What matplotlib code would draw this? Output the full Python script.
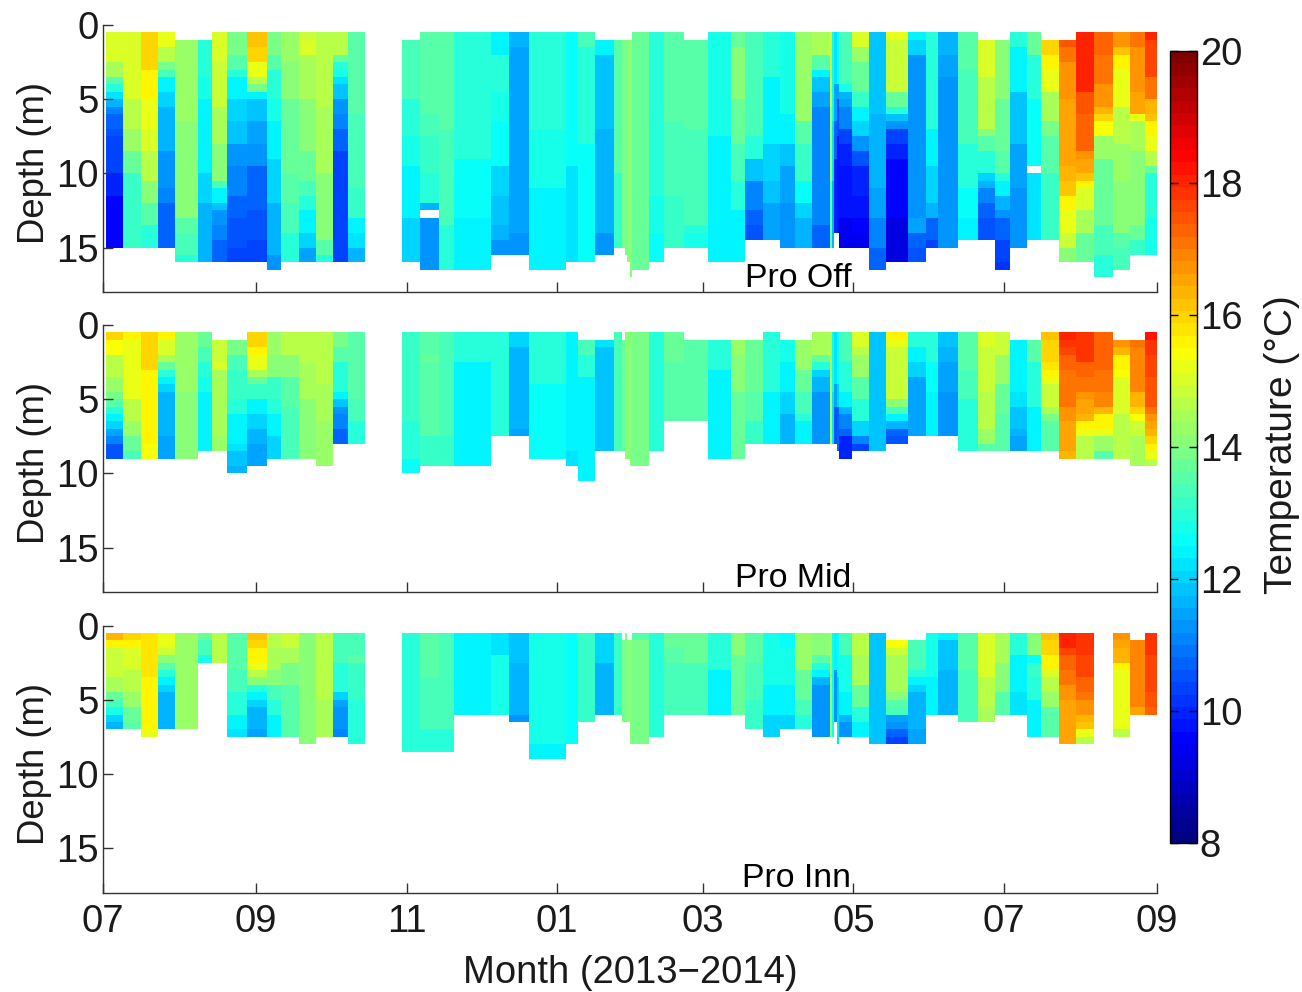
"""Temperature sections at the three Pro moorings, Jul 2013 - Sep 2014."""
import matplotlib

matplotlib.use("Agg")
import matplotlib.pyplot as plt  # noqa: E402
import numpy as np  # noqa: E402
from matplotlib.colors import LinearSegmentedColormap  # noqa: E402

plt.rcParams["font.family"] = ["Liberation Sans", "DejaVu Sans"]

_ = None

# days since 1 July 2013, column edges of the sections
EDGES = [1.3, 8.3, 15.2, 22.2, 29.2, 38.4, 44.3, 50.3, 58.4, 66.5, 72.3, 79.3, 86.3, 93.2, 99.2, 106.2,
         121.3, 128.3, 136.2, 142.2, 150.2, 157.2, 164.5, 172.4, 180.2, 187.6, 192.3, 199.3, 207.2, 210.3,
         211.3, 212.3, 213.4, 214.2, 221.2, 227.3, 235.4, 245.3, 254.4, 260.2, 267.4, 274.3, 280.3, 287.2,
         294.4, 295.4, 296.2, 297.2, 298.3, 303.4, 310.3, 317.3, 326.2, 333.4, 338.2, 346.2, 354.3, 361.3,
         367.3, 374.4, 380.2, 387.4, 394.3, 401.3, 409.3, 416.2, 422.2, 427.0]

# each column: runs of (number of 0.5 m bins, temperature) from 0.5 m down; None = no data
OFF_COLS = [
    [(4, 15.1), (2, 14.4), (1, 13.6), (1, 13.0), (1, 12.2), (1, 11.6), (1, 11.0), (2, 10.7), (1, 10.5), (5, 10.3), (3, 10.0), (7, 9.6)],
    [(9, 15.0), (4, 14.6), (3, 14.2), (3, 13.7), (10, 13.2)],
    [(5, 15.9), (4, 15.6), (4, 15.3), (3, 15.0), (4, 14.6), (3, 14.0), (3, 13.5), (3, 13.0)],
    [(2, 15.2), (2, 14.7), (1, 13.9), (1, 13.3), (2, 12.4), (2, 12.1), (6, 11.6), (5, 11.3), (2, 11.0), (6, 10.7)],
    [(1, _), (11, 14.2), (13, 14.0), (2, 13.6), (3, 13.3), (1, 13.0)],
    [(1, _), (5, 13.0), (3, 12.7), (10, 12.4), (4, 12.0), (8, 11.7)],
    [(4, 15.1), (6, 14.8), (5, 14.4), (5, 14.0), (1, 13.3), (2, 12.4), (1, 11.8), (2, 11.3), (2, 11.0), (3, 10.7)],
    [(3, 13.9), (2, 13.5), (1, 13.0), (3, 12.4), (3, 12.0), (3, 11.8), (3, 11.3), (4, 11.0), (3, 10.7), (4, 10.5), (2, 10.3)],
    [(2, 16.2), (2, 16.0), (2, 15.2), (1, 14.6), (1, 13.9), (1, 12.4), (3, 11.9), (3, 11.5), (3, 11.2), (6, 10.8), (4, 10.6), (3, 10.3)],
    [(3, 13.9), (2, 13.5), (4, 13.0), (3, 12.7), (5, 12.4), (6, 12.0), (7, 11.7), (2, 11.3)],
    [(4, 14.2), (5, 14.0), (10, 13.8), (4, 13.6), (4, 13.4), (4, 13.0)],
    [(1, 14.9), (2, 15.1), (6, 14.4), (7, 14.1), (4, 13.8), (2, 13.3), (2, 12.9), (3, 12.4), (2, 12.0), (2, 11.5)],
    [(10, 14.6), (9, 14.4), (7, 14.1), (2, 14.0), (2, 13.6), (1, 13.0)],
    [(3, 14.6), (1, 13.8), (1, 13.0), (1, 12.7), (1, 12.2), (2, 11.9), (2, 11.3), (2, 11.0), (3, 10.7), (15, 10.3)],
    [(11, 13.6), (10, 13.4), (4, 13.2), (2, 12.4), (2, 12.2), (2, 11.7)],
    [],
    [(1, _), (8, 13.3), (5, 13.0), (4, 12.7), (7, 12.4), (6, 12.0)],
    [(11, 13.5), (3, 13.3), (5, 13.1), (4, 12.9), (1, 11.7), (1, _), (7, 11.2)],
    [(13, 13.5), (13, 13.3), (6, 13.0)],
    [(17, 12.9), (8, 12.6), (7, 12.4)],
    [(17, 12.9), (8, 12.6), (7, 12.4)],
    [(3, 12.4), (5, 13.0), (4, 12.8), (6, 12.5), (4, 12.1), (4, 11.8), (2, 11.6), (2, 11.3)],
    [(2, 11.7), (25, 11.5), (3, 11.3)],
    [(13, 12.9), (8, 12.7), (11, 12.4)],
    [(13, 12.9), (8, 12.7), (11, 12.4)],
    [(18, 12.5), (13, 12.3)],
    [(2, 13.3), (13, 12.9), (16, 12.5)],
    [(1, _), (2, 12.4), (10, 11.8), (14, 11.6), (3, 11.2)],
    [(1, _), (18, 13.5), (10, 13.2)],
    [(1, _), (28, 13.9)],
    [(1, _), (29, 13.9)],
    [(1, _), (30, 14.0)],
    [(1, _), (32, 14.0)],
    [(32, 13.8)],
    [(12, 13.0), (10, 12.9), (5, 12.7), (4, 12.5)],
    [(12, 13.6), (10, 13.4), (7, 13.2)],
    [(1, _), (12, 13.6), (13, 13.4), (1, 13.0), (2, 12.7)],
    [(14, 12.7), (17, 12.4)],
    [(2, 13.8), (7, 14.0), (6, 13.8), (5, 13.4), (4, 13.0), (7, 12.4)],
    [(14, 13.3), (3, 13.0), (3, 11.9), (4, 11.0), (2, 10.8), (2, 10.5)],
    [(6, 12.9), (9, 12.4), (5, 12.1), (3, 11.8), (5, 11.5)],
    [(11, 12.8), (4, 12.4), (3, 11.9), (5, 11.5), (6, 11.2)],
    [(12, 14.3), (3, 13.6), (5, 13.2), (3, 12.5), (2, 12.1), (4, 11.6)],
    [(3, 14.4), (2, 13.5), (1, 12.4), (2, 11.9), (2, 11.4), (16, 11.0), (3, 10.7)],
    [(10, 15.0), (10, 14.4), (9, 13.8)],
    [(12, 12.6), (8, 12.2), (9, 11.6)],
    [(7, 12.3), (5, 11.5), (5, 10.7), (10, 9.9)],
    [(7, 12.5), (2, 11.5), (5, 10.5), (13, 9.8)],
    [(7, 13.3), (1, 12.7), (1, 11.7), (1, 11.4), (3, 11.0), (2, 10.4), (3, 10.0), (3, 9.8), (4, 9.7), (4, 9.4)],
    [(2, 15.0), (2, 14.2), (4, 13.8), (2, 13.2), (2, 12.4), (2, 12.0), (2, 11.3), (2, 10.5), (4, 10.0), (3, 9.8), (2, 9.6), (2, 9.4)],
    [(11, 11.9), (10, 11.6), (4, 11.4), (4, 11.0), (3, 10.8)],
    [(1, 15.3), (7, 14.8), (2, 13.7), (1, 12.9), (1, 11.9), (1, 11.2), (2, 10.4), (2, 10.0), (8, 9.6), (6, 9.3)],
    [(1, 12.4), (2, 12.0), (12, 11.3), (10, 11.2), (2, 11.4), (2, 10.8), (2, 10.6)],
    [(13, 13.0), (5, 12.4), (5, 12.1), (2, 11.7), (3, 10.8), (1, 10.4)],
    [(3, 11.7), (3, 11.5), (19, 11.2), (4, 11.3)],
    [(5, 13.6), (10, 13.3), (6, 13.0), (4, 12.6), (3, 12.4)],
    [(1, _), (5, 15.0), (7, 14.7), (1, 14.1), (2, 13.6), (3, 12.9), (1, 12.1), (1, 11.6), (2, 11.0), (2, 10.8), (3, 10.6)],
    [(1, _), (8, 14.0), (7, 13.7), (3, 13.5), (1, 13.0), (2, 12.4), (2, 11.7), (1, 11.2), (3, 10.8), (3, 10.4), (1, 10.2)],
    [(2, 13.0), (6, 12.4), (7, 11.9), (6, 11.5), (8, 11.2)],
    [(3, 13.8), (6, 13.0), (9, 12.5), (1, _), (9, 12.3)],
    [(1, _), (2, 16.0), (2, 15.6), (3, 15.2), (4, 14.4), (2, 13.9), (5, 13.5), (9, 13.2)],
    [(1, _), (1, 17.4), (2, 17.1), (5, 16.8), (5, 16.6), (4, 16.5), (2, 16.3), (2, 16.1), (2, 15.6), (3, 15.2), (2, 14.8), (2, 14.0)],
    [(8, 18.0), (3, 17.5), (5, 17.3), (1, 16.8), (2, 16.5), (1, 16.2), (1, 15.6), (3, 15.0), (3, 14.4), (4, 13.8)],
    [(3, 17.3), (4, 17.1), (3, 16.8), (1, 16.4), (1, 16.0), (2, 15.4), (3, 14.2), (9, 13.7), (4, 13.4), (3, 13.0)],
    [(2, 16.8), (1, 16.2), (2, 15.6), (5, 15.2), (5, 14.6), (5, 14.2), (7, 14.0), (2, 13.6), (3, 13.3)],
    [(2, 17.0), (6, 16.8), (3, 16.5), (1, 15.2), (4, 14.4), (10, 14.1), (2, 13.7), (2, 13.2)],
    [(1, 18.1), (5, 17.6), (3, 17.0), (2, 16.4), (1, 16.1), (2, 15.6), (2, 15.2), (2, 14.6), (1, 13.8), (6, 13.0), (5, 12.7)],
]

MID_COLS = [
    [(1, 15.9), (2, 15.4), (3, 14.7), (2, 14.2), (1, 13.9), (1, 13.5), (1, 13.0), (1, 12.4), (1, 12.0), (1, 11.4), (1, 11.0), (2, 10.6)],
    [(1, 15.6), (8, 15.2), (3, 14.7), (2, 14.2), (2, 13.7), (1, 13.3)],
    [(5, 15.9), (10, 15.6), (2, 15.4)],
    [(1, 15.5), (2, 15.1), (1, 14.4), (1, 13.8), (1, 13.0), (1, 12.4), (1, 12.0), (6, 11.7), (3, 11.5)],
    [(8, 14.2), (9, 14.1)],
    [(2, 13.7), (2, 13.4), (2, 13.0), (2, 12.7), (8, 12.4)],
    [(1, _), (3, 14.8), (1, 15.0), (9, 14.5), (2, 14.2)],
    [(1, _), (2, 13.9), (2, 13.4), (4, 13.2), (2, 12.9), (4, 12.4), (1, 12.2), (2, 11.9), (1, 11.7)],
    [(2, 16.0), (1, 15.6), (2, 15.2), (1, 14.4), (1, 13.8), (2, 13.2), (2, 12.4), (2, 12.0), (2, 11.6), (3, 11.4)],
    [(3, 14.3), (3, 14.0), (3, 13.2), (2, 12.9), (3, 12.4), (3, 12.0)],
    [(3, 14.6), (3, 14.0), (4, 13.6), (7, 13.4)],
    [(4, 14.7), (5, 14.4), (8, 14.1)],
    [(7, 14.7), (5, 14.5), (6, 14.2)],
    [(2, 13.9), (2, 13.5), (4, 13.0), (1, 12.4), (1, 11.9), (1, 11.3), (2, 11.0), (2, 10.7)],
    [(9, 13.5), (3, 13.3), (3, 13.0)],
    [],
    [(12, 13.1), (5, 12.9), (2, 12.5)],
    [(3, 13.6), (1, 13.8), (10, 13.5), (4, 13.1)],
    [(14, 13.3), (4, 13.1)],
    [(3, 12.9), (1, 13.0), (14, 12.4)],
    [(3, 12.9), (1, 13.0), (14, 12.4)],
    [(14, 12.9)],
    [(2, 12.0), (11, 11.7), (1, 11.5)],
    [(7, 12.9), (10, 12.5)],
    [(7, 12.9), (10, 12.5)],
    [(16, 12.4), (2, 12.2)],
    [(1, _), (2, 13.3), (3, 12.9), (14, 12.4)],
    [(1, _), (1, 12.3), (14, 11.8)],
    [(16, 13.3)],
    [(1, _), (15, 13.8)],
    [(17, 14.0)],
    [(17, 14.0)],
    [(18, 14.0)],
    [(18, 13.9)],
    [(16, 12.9)],
    [(4, 13.7), (8, 13.5)],
    [(1, _), (11, 13.6)],
    [(1, _), (4, 12.9), (12, 12.4)],
    [(1, _), (2, 14.2), (5, 14.0), (9, 13.8)],
    [(1, _), (7, 13.7), (4, 13.5), (3, 13.2)],
    [(4, 13.0), (4, 12.9), (7, 12.4)],
    [(1, _), (3, 12.7), (4, 12.4), (3, 12.0), (4, 11.6)],
    [(1, _), (4, 14.2), (3, 13.8), (3, 13.3), (1, 12.9), (3, 12.4)],
    [(3, 14.4), (1, 13.8), (1, 12.9), (1, 12.0), (2, 11.7), (7, 11.3)],
    [(15, 14.6)],
    [(8, 12.6), (7, 12.2)],
    [(7, 12.3), (3, 11.5), (5, 10.5)],
    [(7, 12.6), (3, 12.0), (6, 10.7)],
    [(4, 13.3), (4, 12.9), (2, 12.4), (1, 11.6), (2, 11.0), (1, 10.7), (3, 10.0)],
    [(2, 15.0), (1, 14.6), (3, 14.2), (3, 13.5), (3, 12.9), (2, 12.0), (1, 11.1), (1, 10.3)],
    [(16, 11.9)],
    [(1, 15.6), (1, 15.3), (7, 14.8), (1, 14.0), (1, 13.3), (1, 12.4), (1, 11.6), (1, 10.8), (1, 10.6)],
    [(2, 13.0), (2, 12.4), (2, 12.0), (4, 11.5), (4, 11.4)],
    [(4, 12.9), (4, 12.6), (6, 12.4)],
    [(2, 11.9), (2, 11.7), (4, 11.5), (6, 11.2)],
    [(5, 13.6), (4, 13.3), (7, 12.9)],
    [(2, 15.1), (6, 14.9), (5, 14.6), (2, 14.2), (1, 13.6)],
    [(3, 14.8), (4, 14.2), (4, 13.8), (5, 13.5)],
    [(1, _), (7, 12.4), (2, 12.2), (3, 11.9), (1, 11.6), (2, 11.4)],
    [(1, _), (3, 13.5), (2, 13.0), (4, 12.9), (6, 12.4)],
    [(1, 16.2), (3, 16.0), (1, 15.7), (1, 15.5), (1, 15.3), (3, 14.8), (1, 14.4), (1, 13.9), (4, 13.5)],
    [(1, 18.1), (1, 17.9), (1, 17.6), (2, 17.2), (5, 17.0), (2, 16.8), (4, 16.6), (1, 16.4)],
    [(2, 17.9), (2, 17.8), (2, 17.3), (2, 17.1), (1, 16.8), (2, 16.5), (1, 16.3), (1, 15.6), (1, 15.2), (3, 14.6)],
    [(5, 17.3), (3, 17.1), (2, 16.9), (1, 16.4), (2, 15.6), (1, 15.2), (2, 14.2), (1, 13.6)],
    [(1, _), (1, 16.8), (1, 16.3), (2, 15.6), (1, 15.4), (5, 15.0), (6, 14.7)],
    [(1, _), (1, 17.1), (6, 16.9), (2, 16.4), (1, 16.0), (1, 15.4), (2, 14.8), (4, 14.4)],
    [(1, 18.2), (2, 17.9), (3, 17.6), (4, 17.4), (1, 17.1), (1, 16.8), (1, 16.5), (1, 16.3), (1, 16.0), (1, 15.6), (1, 15.2), (1, 14.6)],
]

INN_COLS = [
    [(1, 16.4), (1, 15.6), (4, 14.8), (2, 14.4), (1, 13.7), (1, 13.3), (1, 12.7), (1, 12.0), (1, 11.6)],
    [(1, 16.0), (1, 15.6), (3, 15.1), (3, 14.7), (2, 14.2), (2, 13.8), (1, 13.5)],
    [(6, 15.8), (7, 15.6), (1, 15.2)],
    [(2, 15.2), (1, 14.9), (1, 14.1), (1, 13.6), (1, 12.9), (1, 12.4), (1, 12.0), (5, 11.7)],
    [(13, 14.2)],
    [(1, 13.7), (2, 13.3), (1, 12.8)],
    [(4, 14.7)],
    [(5, 13.6), (3, 13.3), (3, 13.0), (2, 12.4), (1, 12.2)],
    [(1, 16.2), (1, 16.0), (2, 15.6), (1, 15.2), (1, 14.6), (1, 14.0), (1, 13.0), (1, 12.4), (1, 12.0), (3, 11.6), (1, 11.5)],
    [(2, 14.7), (3, 14.4), (2, 14.0), (2, 13.3), (2, 12.9), (3, 12.4)],
    [(2, 14.8), (2, 14.4), (3, 13.9), (7, 13.6)],
    [(15, 14.1)],
    [(9, 14.7), (5, 14.4)],
    [(4, 13.3), (4, 13.0), (1, 12.1), (1, 11.4), (3, 11.2), (1, 11.0)],
    [(3, 13.4), (1, 13.6), (5, 13.2), (6, 13.0)],
    [],
    [(16, 13.0)],
    [(6, 13.6), (7, 13.4), (3, 13.0)],
    [(13, 13.3), (3, 13.0)],
    [(11, 12.4)],
    [(11, 12.4)],
    [(3, 12.3), (8, 12.8)],
    [(4, 11.9), (7, 11.6), (1, 11.3)],
    [(15, 12.8), (2, 12.4)],
    [(15, 12.8), (2, 12.4)],
    [(15, 12.5)],
    [(12, 13.1)],
    [(4, 12.0), (7, 11.7)],
    [(11, 13.1)],
    [(1, _), (11, 13.9)],
    [(12, 13.9)],
    [(1, _), (11, 14.0)],
    [(1, _), (14, 14.0)],
    [(1, 13.5), (14, 13.9)],
    [(14, 12.9)],
    [(2, 13.8), (2, 13.6), (7, 13.4)],
    [(4, 13.8), (7, 13.4)],
    [(5, 12.9), (6, 12.4)],
    [(3, 14.1), (8, 13.8)],
    [(4, 13.6), (5, 13.4), (4, 13.2)],
    [(7, 12.8), (4, 12.4), (3, 12.1)],
    [(2, 12.5), (5, 12.8), (4, 12.4), (2, 12.1)],
    [(5, 14.2), (4, 13.8), (2, 13.3), (2, 13.0)],
    [(3, 14.1), (1, 13.6), (1, 13.0), (1, 12.4), (1, 11.7), (7, 11.3)],
    [(14, 14.5)],
    [(14, 12.5)],
    [(5, 12.4), (7, 11.3)],
    [(6, 12.5), (5, 12.1), (4, 12.3)],
    [(3, 13.3), (5, 12.8), (3, 12.4), (1, 11.6), (2, 11.2)],
    [(3, 14.7), (4, 14.4), (3, 13.7), (2, 12.9), (2, 12.4)],
    [(15, 11.9)],
    [(1, _), (1, 15.4), (1, 14.9), (5, 14.4), (1, 14.0), (1, 13.6), (1, 13.3), (1, 11.4), (1, 11.2), (1, 10.8), (1, 10.4)],
    [(1, _), (4, 13.3), (1, 12.9), (1, 12.4), (1, 12.0), (5, 11.6), (2, 11.4)],
    [(6, 12.8), (5, 12.4)],
    [(1, 12.4), (4, 11.9), (6, 11.6)],
    [(5, 13.6), (7, 13.3)],
    [(6, 15.0), (4, 14.7), (2, 14.4)],
    [(4, 14.4), (4, 14.0), (3, 13.6)],
    [(3, 12.9), (5, 12.4), (3, 12.2)],
    [(3, 14.1), (1, 12.6), (2, 13.2), (3, 12.9), (5, 12.4)],
    [(1, 16.2), (2, 16.0), (2, 15.6), (1, 15.1), (2, 14.7), (2, 14.2), (4, 13.5)],
    [(2, 18.1), (1, 17.7), (2, 17.3), (2, 17.0), (2, 16.8), (6, 16.6)],
    [(3, 17.9), (3, 17.7), (2, 17.3), (1, 17.0), (2, 16.8), (1, 16.4), (1, 16.1), (1, 15.3), (1, 14.7)],
    [],
    [(1, 16.8), (1, 16.5), (2, 16.3), (1, 15.6), (8, 15.2), (1, 14.7)],
    [(1, _), (9, 16.9), (1, 16.5)],
    [(3, 17.8), (5, 17.6), (2, 17.4), (1, 17.2)],
]

PANEL_NAMES = ["Pro Off", "Pro Mid", "Pro Inn"]
MONTH_DAYS = [0, 62, 123, 184, 243, 304, 365, 427]
MONTH_LABELS = ["07", "09", "11", "01", "03", "05", "07", "09"]
DEPTH_EDGES = [0.5 + 0.5 * i for i in range(35)]


def to_grid(cols):
    grid = np.full((len(DEPTH_EDGES) - 1, len(cols)), np.nan)
    for j, runs in enumerate(cols):
        i = 0
        for n, temp in runs:
            if temp is not None:
                grid[i:i + n, j] = temp
            i += n
    return np.ma.masked_invalid(grid)


W, H = 1302, 992
fig = plt.figure(figsize=(W / 100, H / 100), dpi=100)
# the matlab flavour of jet, 64 steps
cmap = LinearSegmentedColormap.from_list(
    "matlab_jet",
    [(0, (0, 0, 0.5)), (0.125, (0, 0, 1)), (0.375, (0, 1, 1)),
     (0.625, (1, 1, 0)), (0.875, (1, 0, 0)), (1, (0.5, 0, 0))],
    N=64,
)

tops = [25, 325, 625.5]
for top, cols, name in zip(tops, [OFF_COLS, MID_COLS, INN_COLS], PANEL_NAMES):
    ax = fig.add_axes([103 / W, 1 - (top + 267) / H, 1054 / W, 267 / H])
    mesh = ax.pcolormesh(EDGES, DEPTH_EDGES, to_grid(cols), cmap=cmap, vmin=8, vmax=20)
    ax.set_xlim(0, 427)
    ax.set_ylim(18, 0)
    ax.set_yticks([0, 5, 10, 15])
    ax.set_xticks(MONTH_DAYS)
    ax.set_xticklabels(MONTH_LABELS if name == "Pro Inn" else [])
    ax.tick_params(direction="in", length=7.5, width=1, color="0.2", labelsize=27.5, labelcolor="0.1", pad=3)
    ax.tick_params(axis="x", pad=8)
    ax.spines["top"].set_visible(False)
    ax.spines["right"].set_visible(False)
    for side in ["left", "bottom"]:
        ax.spines[side].set_linewidth(1)
        ax.spines[side].set_color("0.2")
    ax.set_ylabel("Depth (m)", fontsize=26.3, color="0.1")
    ax.yaxis.set_label_coords(-51 / 1054, 0.483)
    ax.text(303.1, 17.65, name, ha="right", va="baseline", fontsize=24.4)
    if name == "Pro Inn":
        ax.set_xlabel("Month (2013\u22122014)", fontsize=27.5, color="0.1", labelpad=11)

cax = fig.add_axes([1170 / W, 1 - 843 / H, 27 / W, 792 / H])
cbar = fig.colorbar(mesh, cax=cax, ticks=list(range(8, 21, 2)))
cbar.ax.tick_params(direction="in", length=6, width=1, left=True, right=True, labelsize=27.5, labelcolor="0.1", pad=2)
cbar.outline.set_linewidth(1)
cbar.set_label("Temperature (\u00b0C)", fontsize=28, color="0.1", labelpad=16, y=0.503)

fig.savefig("out.png", dpi=100)
plt.close(fig)
